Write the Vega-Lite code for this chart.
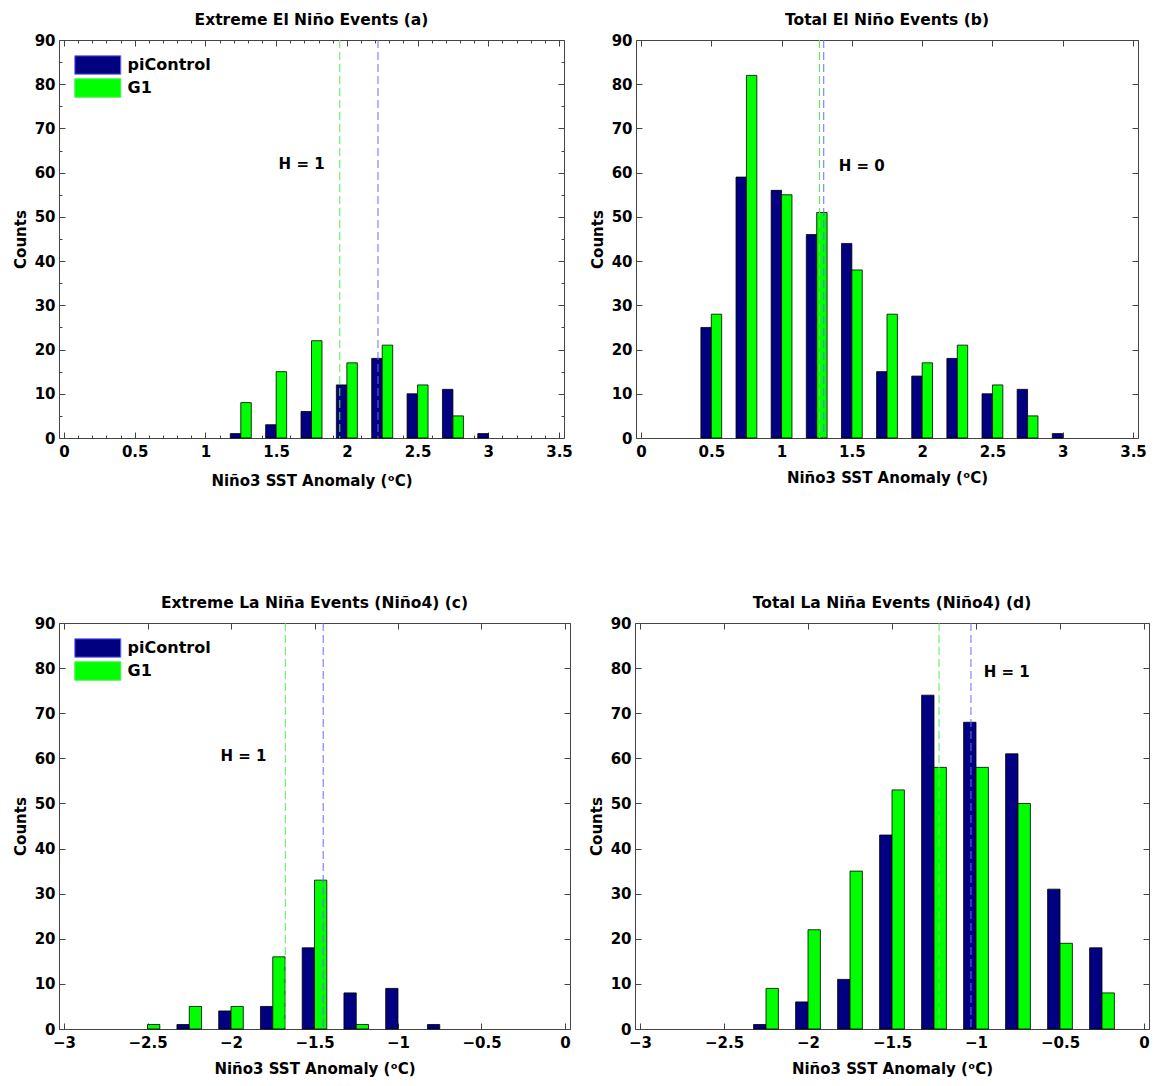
{
  "$schema": "https://vega.github.io/schema/vega-lite/v6.json",
  "padding": {"left": 13, "top": 12, "right": 5, "bottom": 5},
  "background": "white",
  "datasets": {
    "a": [
      {"series": "piControl", "x": 1.25, "count": 1},
      {"series": "piControl", "x": 1.5, "count": 3},
      {"series": "piControl", "x": 1.75, "count": 6},
      {"series": "piControl", "x": 2.0, "count": 12},
      {"series": "piControl", "x": 2.25, "count": 18},
      {"series": "piControl", "x": 2.5, "count": 10},
      {"series": "piControl", "x": 2.75, "count": 11},
      {"series": "piControl", "x": 3.0, "count": 1},
      {"series": "G1", "x": 1.25, "count": 8},
      {"series": "G1", "x": 1.5, "count": 15},
      {"series": "G1", "x": 1.75, "count": 22},
      {"series": "G1", "x": 2.0, "count": 17},
      {"series": "G1", "x": 2.25, "count": 21},
      {"series": "G1", "x": 2.5, "count": 12},
      {"series": "G1", "x": 2.75, "count": 5}
    ],
    "b": [
      {"series": "piControl", "x": 0.5, "count": 25},
      {"series": "piControl", "x": 0.75, "count": 59},
      {"series": "piControl", "x": 1.0, "count": 56},
      {"series": "piControl", "x": 1.25, "count": 46},
      {"series": "piControl", "x": 1.5, "count": 44},
      {"series": "piControl", "x": 1.75, "count": 15},
      {"series": "piControl", "x": 2.0, "count": 14},
      {"series": "piControl", "x": 2.25, "count": 18},
      {"series": "piControl", "x": 2.5, "count": 10},
      {"series": "piControl", "x": 2.75, "count": 11},
      {"series": "piControl", "x": 3.0, "count": 1},
      {"series": "G1", "x": 0.5, "count": 28},
      {"series": "G1", "x": 0.75, "count": 82},
      {"series": "G1", "x": 1.0, "count": 55},
      {"series": "G1", "x": 1.25, "count": 51},
      {"series": "G1", "x": 1.5, "count": 38},
      {"series": "G1", "x": 1.75, "count": 28},
      {"series": "G1", "x": 2.0, "count": 17},
      {"series": "G1", "x": 2.25, "count": 21},
      {"series": "G1", "x": 2.5, "count": 12},
      {"series": "G1", "x": 2.75, "count": 5}
    ],
    "c": [
      {"series": "piControl", "x": -2.25, "count": 1},
      {"series": "piControl", "x": -2.0, "count": 4},
      {"series": "piControl", "x": -1.75, "count": 5},
      {"series": "piControl", "x": -1.5, "count": 18},
      {"series": "piControl", "x": -1.25, "count": 8},
      {"series": "piControl", "x": -1.0, "count": 9},
      {"series": "piControl", "x": -0.75, "count": 1},
      {"series": "G1", "x": -2.5, "count": 1},
      {"series": "G1", "x": -2.25, "count": 5},
      {"series": "G1", "x": -2.0, "count": 5},
      {"series": "G1", "x": -1.75, "count": 16},
      {"series": "G1", "x": -1.5, "count": 33},
      {"series": "G1", "x": -1.25, "count": 1}
    ],
    "d": [
      {"series": "piControl", "x": -2.25, "count": 1},
      {"series": "piControl", "x": -2.0, "count": 6},
      {"series": "piControl", "x": -1.75, "count": 11},
      {"series": "piControl", "x": -1.5, "count": 43},
      {"series": "piControl", "x": -1.25, "count": 74},
      {"series": "piControl", "x": -1.0, "count": 68},
      {"series": "piControl", "x": -0.75, "count": 61},
      {"series": "piControl", "x": -0.5, "count": 31},
      {"series": "piControl", "x": -0.25, "count": 18},
      {"series": "G1", "x": -2.25, "count": 9},
      {"series": "G1", "x": -2.0, "count": 22},
      {"series": "G1", "x": -1.75, "count": 35},
      {"series": "G1", "x": -1.5, "count": 53},
      {"series": "G1", "x": -1.25, "count": 58},
      {"series": "G1", "x": -1.0, "count": 58},
      {"series": "G1", "x": -0.75, "count": 50},
      {"series": "G1", "x": -0.5, "count": 19},
      {"series": "G1", "x": -0.25, "count": 8}
    ],
    "a_mean": [{"series": "piControl", "mean": 2.22}, {"series": "G1", "mean": 1.95}],
    "b_mean": [{"series": "piControl", "mean": 1.30}, {"series": "G1", "mean": 1.27}],
    "c_mean": [{"series": "piControl", "mean": -1.448}, {"series": "G1", "mean": -1.675}],
    "d_mean": [{"series": "piControl", "mean": -1.03}, {"series": "G1", "mean": -1.22}]
  },
  "vconcat": [
    {
      "hconcat": [
        {
          "width": 505, "height": 398,
          "title": "Extreme El Niño Events (a)",
          "data": {"name": "a"},
          "layer": [
            {
              "transform": [{"filter": "datum.series === 'piControl'"}],
              "mark": {"type": "bar", "width": 10.5, "xOffset": -5.25, "stroke": "black", "strokeWidth": 0.8},
              "encoding": {
                "x": {"field": "x", "type": "quantitative", "scale": {"domain": [0, 3.5], "nice": false, "zero": false},
                  "axis": {"orient": "bottom", "title": "Niño3 SST Anomaly (ᵒC)", "values": [0,0.1,0.2,0.3,0.4,0.5,0.6,0.7,0.8,0.9,1,1.1,1.2,1.3,1.4,1.5,1.6,1.7,1.8,1.9,2,2.1,2.2,2.3,2.4,2.5,2.6,2.7,2.8,2.9,3,3.1,3.2,3.3,3.4,3.5], "format": "~g",
                    "labelExpr": "abs(datum.value*2-round(datum.value*2))<0.001 ? datum.label : ''",
                    "tickSize": {"condition": {"test": "abs(datum.value*2-round(datum.value*2))<0.001", "value": -6}, "value": -3}}},
                "y": {"field": "count", "type": "quantitative", "scale": {"domain": [0, 90], "nice": false},
                  "axis": {"orient": "left", "title": "Counts", "values": [0,5,10,15,20,25,30,35,40,45,50,55,60,65,70,75,80,85,90],
                    "labelExpr": "datum.value % 10 === 0 ? datum.label : ''",
                    "tickSize": {"condition": {"test": "datum.value % 10 === 0", "value": -6}, "value": -3}}},
                "color": {"field": "series", "type": "nominal", "scale": {"domain": ["piControl", "G1"], "range": ["#000080", "#00ff00"]}, "legend": {"title": null}}
              }
            },
            {
              "transform": [{"filter": "datum.series === 'G1'"}],
              "mark": {"type": "bar", "width": 10.5, "xOffset": 5.25, "stroke": "black", "strokeWidth": 0.8},
              "encoding": {
                "x": {"field": "x", "type": "quantitative", "axis": null},
                "y": {"field": "count", "type": "quantitative", "axis": null},
                "color": {"field": "series", "type": "nominal", "legend": {"title": null}}
              }
            },
            {
              "data": {"name": "a_mean"},
              "mark": {"type": "rule", "strokeDash": [8, 4], "strokeWidth": 1},
              "encoding": {
                "x": {"field": "mean", "type": "quantitative",
                  "axis": {"orient": "top", "title": null, "labels": false, "values": [0,0.1,0.2,0.3,0.4,0.5,0.6,0.7,0.8,0.9,1,1.1,1.2,1.3,1.4,1.5,1.6,1.7,1.8,1.9,2,2.1,2.2,2.3,2.4,2.5,2.6,2.7,2.8,2.9,3,3.1,3.2,3.3,3.4,3.5],
                    "tickSize": {"condition": {"test": "abs(datum.value*2-round(datum.value*2))<0.001", "value": -6}, "value": -3}}},
                "stroke": {"field": "series", "type": "nominal", "scale": {"domain": ["piControl", "G1"], "range": ["#6b6bff", "#4ef04e"]}, "legend": null}
              }
            },
            {
              "data": {"values": [{"label": "H = 1"}]},
              "mark": {"type": "text", "fontSize": 15, "fontWeight": "bold", "font": "DejaVu Sans", "color": "black", "align": "center", "baseline": "middle"},
              "encoding": {
                "x": {"datum": 1.68, "type": "quantitative", "axis": null},
                "y": {"datum": 62, "type": "quantitative",
                  "axis": {"orient": "right", "title": null, "labels": false, "values": [0,5,10,15,20,25,30,35,40,45,50,55,60,65,70,75,80,85,90],
                    "tickSize": {"condition": {"test": "datum.value % 10 === 0", "value": -6}, "value": -3}}},
                "text": {"field": "label"}
              }
            }
          ],
          "resolve": {"axis": {"x": "independent", "y": "independent"}}
        },
        {
          "width": 502, "height": 398,
          "title": "Total El Niño Events (b)",
          "data": {"name": "b"},
          "layer": [
            {
              "transform": [{"filter": "datum.series === 'piControl'"}],
              "mark": {"type": "bar", "width": 10.4, "xOffset": -5.2, "stroke": "black", "strokeWidth": 0.8},
              "encoding": {
                "x": {"field": "x", "type": "quantitative", "scale": {"domain": [0, 3.5], "nice": false, "zero": false},
                  "axis": {"orient": "bottom", "title": "Niño3 SST Anomaly (ᵒC)", "values": [0,0.5,1,1.5,2,2.5,3,3.5], "format": "~g", "tickSize": -6}},
                "y": {"field": "count", "type": "quantitative", "scale": {"domain": [0, 90], "nice": false},
                  "axis": {"orient": "left", "title": "Counts", "values": [0,10,20,30,40,50,60,70,80,90], "tickSize": -6}},
                "color": {"field": "series", "type": "nominal", "scale": {"domain": ["piControl", "G1"], "range": ["#000080", "#00ff00"]}, "legend": {"title": null}}
              }
            },
            {
              "transform": [{"filter": "datum.series === 'G1'"}],
              "mark": {"type": "bar", "width": 10.4, "xOffset": 5.2, "stroke": "black", "strokeWidth": 0.8},
              "encoding": {
                "x": {"field": "x", "type": "quantitative", "axis": null},
                "y": {"field": "count", "type": "quantitative", "axis": null},
                "color": {"field": "series", "type": "nominal", "legend": {"title": null}}
              }
            },
            {
              "data": {"name": "b_mean"},
              "mark": {"type": "rule", "strokeDash": [8, 4], "strokeWidth": 1},
              "encoding": {
                "x": {"field": "mean", "type": "quantitative",
                  "axis": {"orient": "top", "title": null, "labels": false, "values": [0,0.5,1,1.5,2,2.5,3,3.5], "tickSize": -6}},
                "stroke": {"field": "series", "type": "nominal", "scale": {"domain": ["piControl", "G1"], "range": ["#6b6bff", "#4ef04e"]}, "legend": null}
              }
            },
            {
              "data": {"values": [{"label": "H = 0"}]},
              "mark": {"type": "text", "fontSize": 15, "fontWeight": "bold", "font": "DejaVu Sans", "color": "black", "align": "center", "baseline": "middle"},
              "encoding": {
                "x": {"datum": 1.57, "type": "quantitative", "axis": null},
                "y": {"datum": 61.5, "type": "quantitative",
                  "axis": {"orient": "right", "title": null, "labels": false, "values": [0,10,20,30,40,50,60,70,80,90], "tickSize": -6}},
                "text": {"field": "label"}
              }
            }
          ],
          "resolve": {"axis": {"x": "independent", "y": "independent"}}
        }
      ],
      "spacing": 17
    },
    {
      "hconcat": [
        {
          "width": 511, "height": 406,
          "title": "Extreme La Niña Events (Niño4) (c)",
          "data": {"name": "c"},
          "layer": [
            {
              "transform": [{"filter": "datum.series === 'piControl'"}],
              "mark": {"type": "bar", "width": 12.3, "xOffset": -6.15, "stroke": "black", "strokeWidth": 0.8},
              "encoding": {
                "x": {"field": "x", "type": "quantitative", "scale": {"domain": [-3, 0], "nice": false, "zero": false},
                  "axis": {"orient": "bottom", "title": "Niño3 SST Anomaly (ᵒC)", "values": [-3,-2.5,-2,-1.5,-1,-0.5,0], "format": "~g", "tickSize": -6}},
                "y": {"field": "count", "type": "quantitative", "scale": {"domain": [0, 90], "nice": false},
                  "axis": {"orient": "left", "title": "Counts", "values": [0,10,20,30,40,50,60,70,80,90], "tickSize": -6}},
                "color": {"field": "series", "type": "nominal", "scale": {"domain": ["piControl", "G1"], "range": ["#000080", "#00ff00"]}, "legend": {"title": null}}
              }
            },
            {
              "transform": [{"filter": "datum.series === 'G1'"}],
              "mark": {"type": "bar", "width": 12.3, "xOffset": 6.15, "stroke": "black", "strokeWidth": 0.8},
              "encoding": {
                "x": {"field": "x", "type": "quantitative", "axis": null},
                "y": {"field": "count", "type": "quantitative", "axis": null},
                "color": {"field": "series", "type": "nominal", "legend": {"title": null}}
              }
            },
            {
              "data": {"name": "c_mean"},
              "mark": {"type": "rule", "strokeDash": [8, 4], "strokeWidth": 1},
              "encoding": {
                "x": {"field": "mean", "type": "quantitative",
                  "axis": {"orient": "top", "title": null, "labels": false, "values": [-3,-2.5,-2,-1.5,-1,-0.5,0], "tickSize": -6}},
                "stroke": {"field": "series", "type": "nominal", "scale": {"domain": ["piControl", "G1"], "range": ["#6b6bff", "#4ef04e"]}, "legend": null}
              }
            },
            {
              "data": {"values": [{"label": "H = 1"}]},
              "mark": {"type": "text", "fontSize": 15, "fontWeight": "bold", "font": "DejaVu Sans", "color": "black", "align": "center", "baseline": "middle"},
              "encoding": {
                "x": {"datum": -1.925, "type": "quantitative", "axis": null},
                "y": {"datum": 60.5, "type": "quantitative",
                  "axis": {"orient": "right", "title": null, "labels": false, "values": [0,10,20,30,40,50,60,70,80,90], "tickSize": -6}},
                "text": {"field": "label"}
              }
            }
          ],
          "resolve": {"axis": {"x": "independent", "y": "independent"}}
        },
        {
          "width": 514, "height": 406,
          "title": "Total La Niña Events (Niño4) (d)",
          "data": {"name": "d"},
          "layer": [
            {
              "transform": [{"filter": "datum.series === 'piControl'"}],
              "mark": {"type": "bar", "width": 12.4, "xOffset": -6.2, "stroke": "black", "strokeWidth": 0.8},
              "encoding": {
                "x": {"field": "x", "type": "quantitative", "scale": {"domain": [-3, 0], "nice": false, "zero": false},
                  "axis": {"orient": "bottom", "title": "Niño3 SST Anomaly (ᵒC)", "values": [-3,-2.5,-2,-1.5,-1,-0.5,0], "format": "~g", "tickSize": -6}},
                "y": {"field": "count", "type": "quantitative", "scale": {"domain": [0, 90], "nice": false},
                  "axis": {"orient": "left", "title": "Counts", "values": [0,10,20,30,40,50,60,70,80,90], "tickSize": -6}},
                "color": {"field": "series", "type": "nominal", "scale": {"domain": ["piControl", "G1"], "range": ["#000080", "#00ff00"]}, "legend": {"title": null}}
              }
            },
            {
              "transform": [{"filter": "datum.series === 'G1'"}],
              "mark": {"type": "bar", "width": 12.4, "xOffset": 6.2, "stroke": "black", "strokeWidth": 0.8},
              "encoding": {
                "x": {"field": "x", "type": "quantitative", "axis": null},
                "y": {"field": "count", "type": "quantitative", "axis": null},
                "color": {"field": "series", "type": "nominal", "legend": {"title": null}}
              }
            },
            {
              "data": {"name": "d_mean"},
              "mark": {"type": "rule", "strokeDash": [8, 4], "strokeWidth": 1},
              "encoding": {
                "x": {"field": "mean", "type": "quantitative",
                  "axis": {"orient": "top", "title": null, "labels": false, "values": [-3,-2.5,-2,-1.5,-1,-0.5,0], "tickSize": -6}},
                "stroke": {"field": "series", "type": "nominal", "scale": {"domain": ["piControl", "G1"], "range": ["#6b6bff", "#4ef04e"]}, "legend": null}
              }
            },
            {
              "data": {"values": [{"label": "H = 1"}]},
              "mark": {"type": "text", "fontSize": 15, "fontWeight": "bold", "font": "DejaVu Sans", "color": "black", "align": "center", "baseline": "middle"},
              "encoding": {
                "x": {"datum": -0.817, "type": "quantitative", "axis": null},
                "y": {"datum": 79.2, "type": "quantitative",
                  "axis": {"orient": "right", "title": null, "labels": false, "values": [0,10,20,30,40,50,60,70,80,90], "tickSize": -6}},
                "text": {"field": "label"}
              }
            }
          ],
          "resolve": {"axis": {"x": "independent", "y": "independent"}}
        }
      ],
      "spacing": 18
    }
  ],
  "spacing": 107,
  "resolve": {"scale": {"color": "independent", "stroke": "independent"}, "legend": {"color": "independent"}},
  "config": {
    "font": "DejaVu Sans",
    "view": {"stroke": null},
    "axis": {
      "grid": false,
      "labelFont": "DejaVu Sans", "labelFontSize": 15, "labelFontWeight": "bold", "labelColor": "black",
      "labelFlush": false, "labelOverlap": false,
      "titleFont": "DejaVu Sans", "titleFontSize": 15, "titleFontWeight": "bold", "titleColor": "black",
      "domainColor": "#444", "tickColor": "#444", "domainWidth": 1, "tickWidth": 1
    },
    "axisX": {"labelPadding": 12, "titlePadding": 11},
    "axisY": {"labelPadding": 10, "titlePadding": 6},
    "title": {"font": "DejaVu Sans", "fontSize": 15.5, "fontWeight": "bold", "color": "black", "offset": 5},
    "legend": {
      "orient": "top-left", "offset": 15, "padding": 0,
      "symbolType": "M-1,-1L4,-1L4,1L-1,1Z", "symbolSize": 338.6,
      "symbolStrokeColor": "black", "symbolStrokeWidth": 1, "symbolOpacity": 1,
      "labelFont": "DejaVu Sans", "labelFontSize": 16, "labelFontWeight": "bold", "labelColor": "black",
      "labelOffset": 33.6, "rowPadding": -1
    }
  }
}
